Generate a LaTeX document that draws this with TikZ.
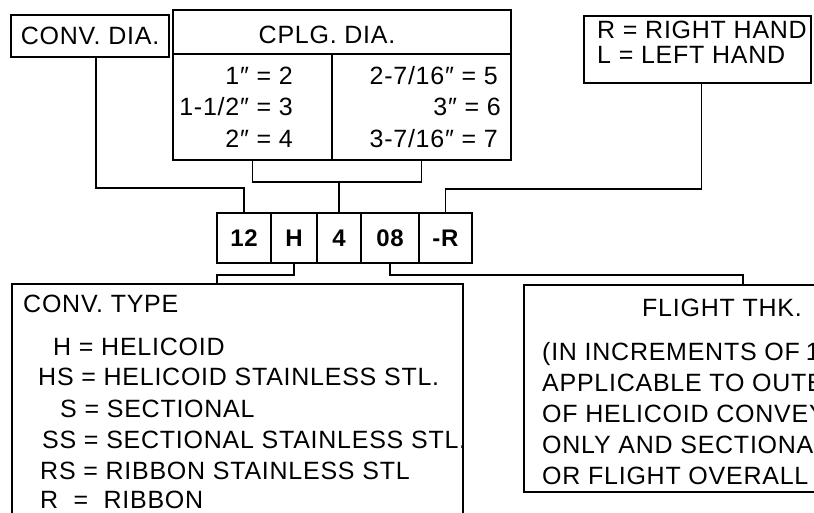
\documentclass[tikz,border=0pt]{standalone}
\usepackage{fontspec}
\setmainfont[LetterSpace=3]{Liberation Sans}
\usetikzlibrary{positioning}
\newcommand{\dprime}{\char"2033\relax}
\tikzset{
  box/.style={draw, line width=1.6pt, outer sep=0pt, inner sep=0pt},
  numbox/.style={box, minimum height=50pt, font=\fontsize{24}{28}\selectfont\bfseries},
  txt/.style={inner sep=0pt, font=\fontsize{25}{31}\selectfont},
  wire/.style={line width=1.6pt},
}
\begin{document}
\begin{tikzpicture}[x=1pt, y=-1pt]
  \useasboundingbox (0,0) rectangle (814,512);
  \clip (0,0) rectangle (814,512);
  % top row of boxes
  \node[box, txt, minimum width=158pt, minimum height=42pt] (convdia) at (90,36) {CONV.\ DIA.};
  \node[box, minimum width=338pt, minimum height=44pt] (cplg) at (342,32) {};
  \node[txt, anchor=base] (cplgtxt) at (327,43) {CPLG.\ DIA.};
  \node[box, minimum width=159pt, minimum height=106pt, below right=0pt of cplg.south west] (cplgL) {};
  \node[box, minimum width=179pt, minimum height=106pt, right=0pt of cplgL] (cplgR) {};
  \foreach \x/\y/\t [count=\i] in {293/84/{1\dprime\ = 2}, 293/115/{1-1/2\dprime\ = 3}, 293/147/{2\dprime\ = 4},
      498/84/{2-7/16\dprime\ = 5}, 501/115/{3\dprime\ = 6}, 498/147/{3-7/16\dprime\ = 7}}
    \node[txt, anchor=base east] (cp\i) at (\x,\y) {\t};
  \node[box, minimum width=227pt, minimum height=67pt] (rh) at (697.5,49.5) {};
  \node[txt, anchor=base west] (rhR) at (597,38) {R = RIGHT HAND};
  \node[txt, anchor=base west] (rhL) at (597,63) {L = LEFT HAND};

  % the part number
  \node[numbox, minimum width=54pt] (b12) at (244,238) {12};
  \node[numbox, minimum width=46pt, right=0pt of b12] (bH) {H};
  \node[numbox, minimum width=44pt, right=0pt of bH] (b4) {4};
  \node[numbox, minimum width=58pt, right=0pt of b4] (b08) {08};
  \node[numbox, minimum width=53pt, right=0pt of b08] (bR) {-R};

  % bottom boxes (run off the page)
  \node[box, minimum width=451pt, minimum height=260pt] (convtype) at (237.5,414) {};
  \node[txt, anchor=base west] (cttitle) at (23,312) {CONV.\ TYPE};
  \foreach \x/\y/\t [count=\i] in {53/355/{H = HELICOID}, 38/385/{HS = HELICOID STAINLESS STL.},
      60/417/{S = SECTIONAL}, 42/448/{SS = SECTIONAL STAINLESS STL.},
      40/479/{RS = RIBBON STAINLESS STL}, 40/508/{R\ \ =\ \ RIBBON}}
    \node[txt, anchor=base west] (ct\i) at (\x,\y) {\t};
  \node[box, minimum width=438pt, minimum height=207pt] (flight) at (743,388.5) {};
  \node[txt, anchor=base west] (fltitle) at (642,316) {FLIGHT THK.};
  \foreach \y/\t [count=\i] in {360/{(IN INCREMENTS OF\hspace{6pt}1}, 391/{APPLICABLE TO OUTER},
      422/{OF HELICOID CONVEYOR}, 453/{ONLY AND SECTIONAL}, 484/{OR FLIGHT OVERALL}}
    \node[txt, anchor=base west] (fl\i) at (542,\y) {\t};

  % connectors
  \draw[wire] ([xshift=6pt]convdia.south) |- ([yshift=25pt]b12.north) -- (b12.north);
  \draw[wire] (cplgL.south) -- ++(0,22) coordinate (cplgbar) -| (cplgR.south);
  \draw[wire] (b4.north) -- (b4.north |- cplgbar);
  \draw[wire] ([xshift=4pt]rh.south) |- ([yshift=24pt]bR.north) -- (bR.north);
  \draw[wire] (bH.south) -- ++(0,12) -| (convtype.north -| b12.west);
  \draw[wire] (b08.south) -- ++(0,12) -| (flight.north);
\end{tikzpicture}
\end{document}
